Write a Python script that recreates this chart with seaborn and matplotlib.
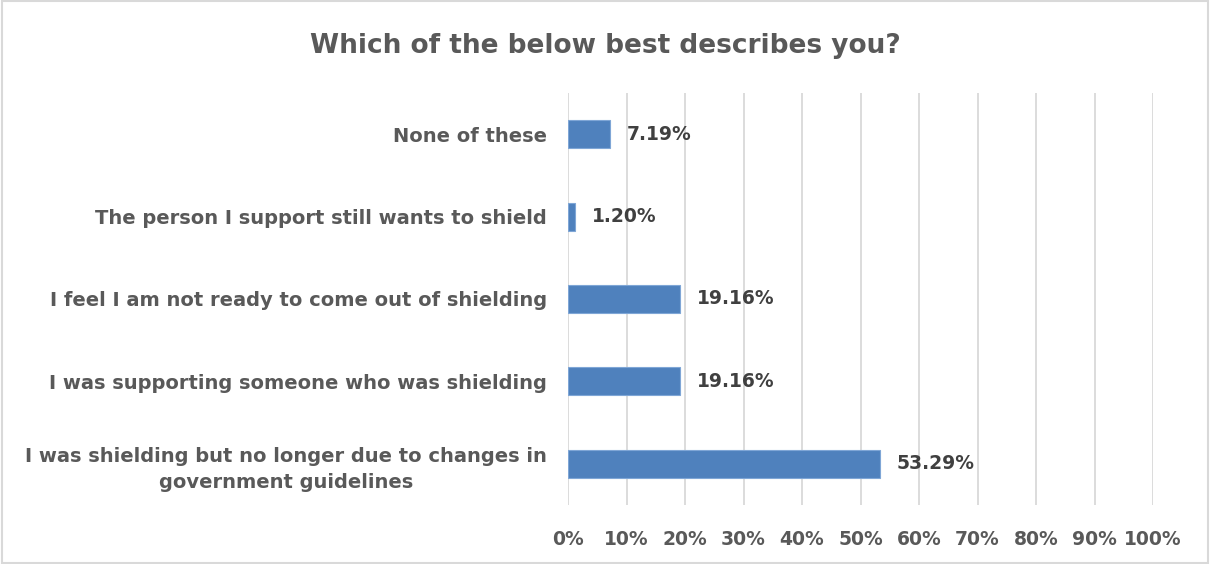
import matplotlib
matplotlib.use("Agg")
import matplotlib.pyplot as plt
import seaborn as sns
import pandas as pd
from matplotlib.patches import Rectangle
from matplotlib.ticker import FuncFormatter

categories = [
    "None of these",
    "The person I support still wants to shield",
    "I feel I am not ready to come out of shielding",
    "I was supporting someone who was shielding",
    "I was shielding but no longer due to changes in\ngovernment guidelines",
]
values = [7.19, 1.20, 19.16, 19.16, 53.29]
xticks = list(range(0, 101, 10))
title = "Which of the below best describes you?"

df = pd.DataFrame({"cat": categories, "val": values})

sns.set_theme(style="white")
plt.rcParams["font.family"] = ["DejaVu Sans"]

fig = plt.figure(figsize=(12.1, 5.64), dpi=100)
ax = fig.add_axes([568 / 1210, 1 - 505 / 564, (1153 - 568) / 1210, (505 - 93) / 564])

sns.barplot(data=df, x="val", y="cat", orient="h", color="#4F81BD", saturation=1,
            width=0.34, edgecolor="#7FA6D6", linewidth=0.8, ax=ax, zorder=3)

ax.set_xlim(0, 100)
ax.set_ylim(4.5, -0.5)
ax.set_xticks(xticks)
ax.xaxis.set_major_formatter(FuncFormatter(lambda v, p: f"{v:.0f}%"))
ax.grid(axis="x", color="#D9D9D9", linewidth=1.3, zorder=0)
ax.set_axisbelow(True)
for s in ax.spines.values():
    s.set_visible(False)
ax.set_xlabel("")
ax.set_ylabel("")
ax.tick_params(axis="x", length=0, pad=18, labelsize=13.5, labelcolor="#595959")
ax.tick_params(axis="y", length=0, pad=15, labelsize=14, labelcolor="#595959")
for lbl in ax.get_xticklabels() + ax.get_yticklabels():
    lbl.set_fontweight("bold")
for lbl in ax.get_yticklabels():
    lbl.set_multialignment("center")
    lbl.set_linespacing(1.45)

for c in ax.containers:
    ax.bar_label(c, labels=[f"{v:.2f}%" for v in values], padding=12,
                 fontsize=13.5, fontweight="bold", color="#404040")

fig.text(0.5, 1 - 46 / 564, title, ha="center", va="center", fontsize=19,
         fontweight="bold", color="#595959")

fig.patches.append(Rectangle((0.002, 0.002), 0.996, 0.996, transform=fig.transFigure,
                             fill=False, edgecolor="#D9D9D9", linewidth=1.5))

fig.savefig("out.png", dpi=100, facecolor="white")
